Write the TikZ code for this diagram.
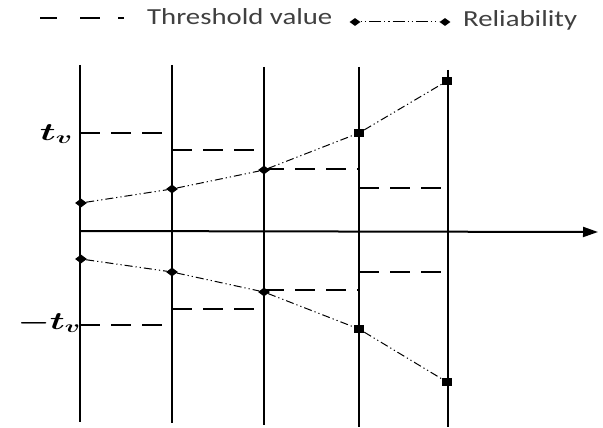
\documentclass[tikz,border=0pt]{standalone}
\usepackage{fontspec}
\usepackage{amsmath}
\setmainfont{Carlito}
\usetikzlibrary{arrows.meta,positioning,shapes.geometric}

\begin{document}
\begin{tikzpicture}[
  x=1pt, y=-1pt,
  vline/.style={line width=1.7pt, black},
  thr/.style={line width=2.5pt, dash pattern=on 20pt off 11pt},
  rel/.style={line width=1pt, dash pattern=on 8pt off 3pt on 1.2pt off 3pt on 1.2pt off 3pt},
  dia/.style={diamond, fill=black, inner sep=0pt, minimum width=12pt, minimum height=9pt},
  sq/.style={rectangle, fill=black, inner sep=0pt, minimum width=10pt, minimum height=8pt},
  legtext/.style={inner sep=0pt, text=black!75, font=\fontsize{23}{26}\selectfont},
  axlabel/.style={inner sep=0pt, font=\fontsize{25}{28}\selectfont}
]
\useasboundingbox (0,0) rectangle (603,428);

\coordinate (v0t) at (80,65);  \coordinate (v0b) at (80,422);
\coordinate (v1t) at (172,65); \coordinate (v1b) at (172,423);
\coordinate (v2t) at (264,67); \coordinate (v2b) at (264,425);
\coordinate (v3t) at (359,67); \coordinate (v3b) at (359,427);
\coordinate (v4t) at (448,70); \coordinate (v4b) at (448,427);
\draw[vline, line width=2.7pt] (v0t) -- (v0b);
\draw[vline] (v1t) -- (v1b);
\draw[vline] (v2t) -- (v2b);
\draw[vline] (v3t) -- (v3b);
\draw[vline] (v4t) -- (v4b);

\coordinate (origin) at (80,231);
\coordinate (xend) at (598,232);
\draw[line width=2pt, -{Triangle[length=15pt, width=10pt]}] (origin) -- (xend);

\coordinate (up0) at (80,133);  \coordinate (up1) at (172,133);
\coordinate (up2) at (172,150); \coordinate (up3) at (264,150);
\coordinate (up4) at (264,169); \coordinate (up5) at (359,169);
\coordinate (up6) at (359,188); \coordinate (up7) at (448,188);
\draw[thr] (up0) -- (up1);
\draw[thr] (up2) -- (up3);
\draw[thr] (up4) -- (up5);
\draw[thr] (up6) -- (up7);

\coordinate (lo0) at (80,325);  \coordinate (lo1) at (172,325);
\coordinate (lo2) at (172,309); \coordinate (lo3) at (264,309);
\coordinate (lo4) at (264,290); \coordinate (lo5) at (359,290);
\coordinate (lo6) at (359,272); \coordinate (lo7) at (448,272);
\draw[thr] (lo0) -- (lo1);
\draw[thr] (lo2) -- (lo3);
\draw[thr] (lo4) -- (lo5);
\draw[thr] (lo6) -- (lo7);

\node[dia] (ru0) at (81,203) {};
\node[dia] (ru1) at (172,189) {};
\node[dia] (ru2) at (264,170) {};
\node[sq] (ru3) at (359,133) {};
\node[sq] (ru4) at (447,81) {};
\draw[rel] (ru0) -- (ru1) -- (ru2) -- (ru3) -- (ru4);

\node[dia] (rl0) at (81,259) {};
\node[dia] (rl1) at (172,272) {};
\node[dia] (rl2) at (264,292) {};
\node[sq] (rl3) at (359,329) {};
\node[sq] (rl4) at (447,382) {};
\draw[rel] (rl0) -- (rl1) -- (rl2) -- (rl3) -- (rl4);

\node[axlabel, anchor=base east] (tv) at (73,140) {\scalebox{1.55}[1]{$\boldsymbol{t_v}$}};
\node[axlabel, anchor=base east] (mtv) at (81,329) {\scalebox{1.45}[1]{$\boldsymbol{-t_v}$}};

\coordinate (lgA) at (40,18);
\coordinate (lgB) at (125,18);
\draw[line width=2.2pt, dash pattern=on 17pt off 23pt on 20pt off 18pt on 6pt] (lgA) -- (lgB);
\node[legtext, anchor=base west] (thrtext) at (147,25) {\scalebox{1.25}[1]{Threshold value}};

\node[dia, minimum width=11pt, minimum height=8pt] (lgC) at (355,22) {};
\node[dia, minimum width=11pt, minimum height=8pt] (lgD) at (445,22) {};
\draw[line width=1pt, dash pattern=on 1.2pt off 3pt on 1.2pt off 3pt on 12pt off 3pt] (lgC) -- (lgD);
\node[legtext, anchor=base west] (reltext) at (463,27) {\scalebox{1.25}[1]{Reliability}};
\end{tikzpicture}
\end{document}
